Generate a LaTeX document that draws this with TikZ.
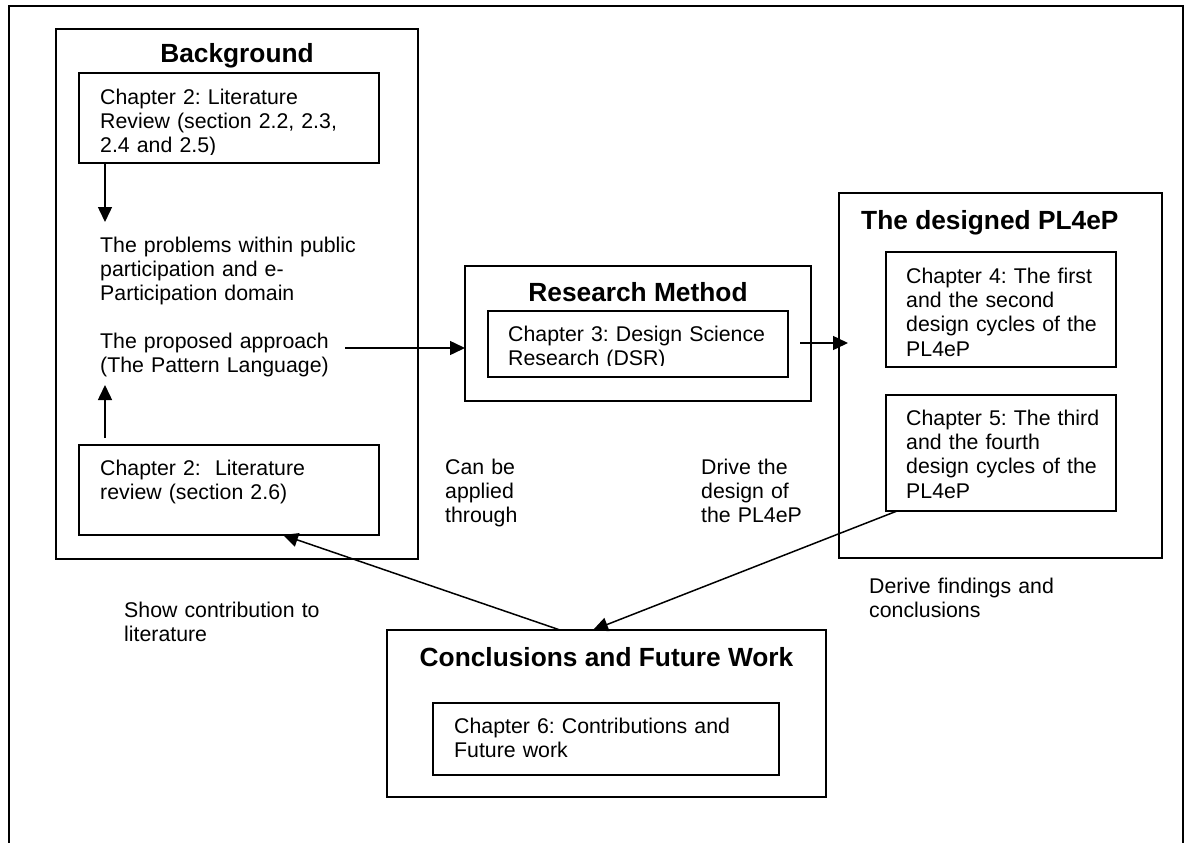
\documentclass[tikz,border=0pt]{standalone}
\usepackage{fontspec}
\setmainfont{Liberation Sans}
\usetikzlibrary{arrows.meta,calc}
\frenchspacing
\begin{document}
\begin{tikzpicture}[x=1pt,y=-1pt,
  box/.style={draw,line width=1.6pt,inner sep=0pt,outer sep=0pt,anchor=north west},
  body/.style={inner sep=0pt,anchor=base west,align=left,text width=320pt,
    font=\frenchspacing\fontsize{21.3}{24.4}\selectfont},
  heading/.style={inner sep=0pt,anchor=base,font=\bfseries\fontsize{26.3}{30}\selectfont},
  arr/.style={line width=1.5pt,-{Triangle[length=15pt,width=14pt]}}]
\useasboundingbox (0,0) rectangle (1191,843);

% outer frame, open at the bottom
\draw[line width=2.2pt] (9,843) -- (9,6) -- (1183,6) -- (1183,843);

% ---- Background ----
\node[box,minimum width=362pt,minimum height=530pt] (bg) at (56,29) {};
\node[heading] (bgt) at (237,63) {Background};
\node[box,minimum width=300pt,minimum height=90pt] (c2a) at (79,73) {};
\begin{scope}
  \clip (c2a.north west) rectangle ($(c2a.south east)+(0,-9)$);
  \node[body] (c2at) at (100,104) {Chapter 2: Literature\\Review (section 2.2, 2.3,\\2.4 and 2.5)};
\end{scope}
\node[body] (prob) at (100,252) {The problems within public\\participation and e-\\Participation domain};
\node[body] (appr) at (100,348) {The proposed approach\\(The Pattern Language)};
\node[box,minimum width=300pt,minimum height=90pt] (c2b) at (79,445) {};
\node[body] (c2bt) at (100,475) {Chapter 2:\ \ Literature\\review (section 2.6)};

% ---- Research Method ----
\node[box,minimum width=346pt,minimum height=135pt] (rm) at (465,266) {};
\node[heading] (rmt) at (638,301) {Research Method};
\node[box,minimum width=300pt,minimum height=66pt] (c3) at (488,311) {};
\begin{scope}
  \clip (c3.north west) rectangle ($(c3.south east)+(0,-12)$);
  \node[body] (c3t) at (508,341) {Chapter 3: Design Science\\Research (DSR)};
\end{scope}

% ---- The designed PL4eP ----
\node[box,minimum width=323pt,minimum height=365pt] (pl) at (839,193) {};
\node[heading,anchor=base west] (plt) at (861,229) {The designed PL4eP};
\node[box,minimum width=230pt,minimum height=115pt] (c4) at (886,252) {};
\node[body] (c4t) at (906,283) {Chapter 4: The first\\and the second\\design cycles of the\\PL4eP};
\node[box,minimum width=230pt,minimum height=116pt] (c5) at (886,395) {};
\node[body] (c5t) at (906,425) {Chapter 5: The third\\and the fourth\\design cycles of the\\PL4eP};

% ---- Conclusions and Future Work ----
\node[box,minimum width=439pt,minimum height=167pt] (conc) at (387,630) {};
\node[heading] (conct) at (606.5,666) {Conclusions and Future Work};
\node[box,minimum width=346pt,minimum height=72pt] (c6) at (433,703) {};
\node[body] (c6t) at (454,733) {Chapter 6: Contributions and\\Future work};

% ---- connector labels ----
\node[body] (canbe) at (445,474) {Can be\\applied\\through};
\node[body] (drive) at (701,474) {Drive the\\design of\\the PL4eP};
\node[body] (showc) at (124,617) {Show contribution to\\literature};
\node[body] (derive) at (869,593) {Derive findings and\\conclusions};

% ---- connectors ----
\draw[arr] ($(c2a.south west)+(26,0)$) -- ++(0,59);
\draw[arr] ($(c2b.north west)+(26,-7)$) -- ++(0,-53);
\draw[arr] ($(appr.base west)+(245,0)$) -- ($(rm.north west)+(0,82)$);
\draw[arr] ($(rm.north east)+(-11,77)$) -- ($(pl.north west)+(9,150)$);
\draw[arr] ($(conc.north west)+(173,0)$) -- ($(c2b.south west)+(204,0)$);
\draw[arr] ($(c5.south west)+(11,0)$) -- ($(conc.north west)+(206,0)$);
\end{tikzpicture}
\end{document}
